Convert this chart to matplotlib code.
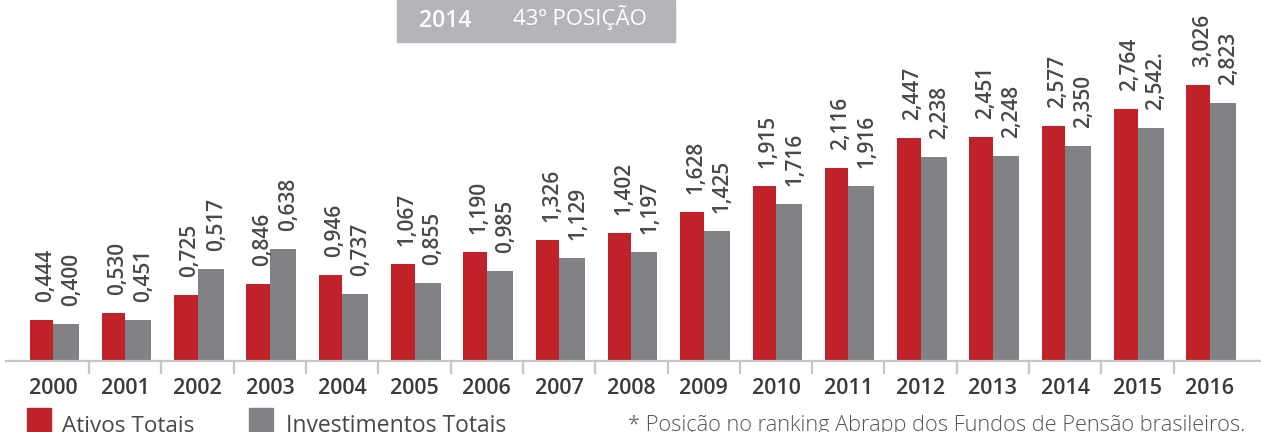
import matplotlib.pyplot as plt
from matplotlib.patches import Rectangle

plt.rcParams['font.family'] = ['Open Sans', 'DejaVu Sans']

# dados (R$ bilhões)
anos = ['2000', '2001', '2002', '2003', '2004', '2005', '2006', '2007', '2008',
        '2009', '2010', '2011', '2012', '2013', '2014', '2015', '2016']
ativos = [0.444, 0.530, 0.725, 0.846, 0.946, 1.067, 1.190, 1.326, 1.402,
          1.628, 1.915, 2.116, 2.447, 2.451, 2.577, 2.764, 3.026]
# alturas das barras como aparecem no grafico
investimentos = [0.400, 0.451, 1.010, 1.230, 0.737, 0.855, 0.985, 1.129, 1.197,
                 1.425, 1.716, 1.916, 2.238, 2.248, 2.350, 2.555, 2.823]
rotulos_ativos = ['0,444', '0,530', '0,725', '0,846', '0,946', '1,067', '1,190',
                  '1,326', '1,402', '1,628', '1,915', '2,116', '2,447', '2,451',
                  '2,577', '2,764', '3,026']
rotulos_invest = ['0,400', '0,451', '0,517', '0,638', '0,737', '0,855', '0,985',
                  '1,129', '1,197', '1,425', '1,716', '1,916', '2,238', '2,248',
                  '2,350', '2,542.', '2,823']

VERMELHO = '#c0222a'
CINZA = '#808285'
TEXTO = '#48484b'
EIXO = '#c6c6c8'

W, H = 1261, 432
fig = plt.figure(figsize=(W / 100, H / 100), dpi=100)
ax = fig.add_axes([6 / W, (H - 361) / H, (W - 6) / W, 361 / H])

x = list(range(len(anos)))
ax.bar(x, ativos, width=-0.325, align='edge', color=VERMELHO)
ax.bar(x, investimentos, width=0.36, align='edge', color=CINZA)

for i in x:
    ax.annotate(rotulos_ativos[i], (i - 0.1625, ativos[i]), xytext=(3, 13),
                textcoords='offset points', rotation=90, ha='center', va='bottom',
                fontsize=15, fontweight='semibold', color=TEXTO)
    ax.annotate(rotulos_invest[i], (i + 0.18, investimentos[i]), xytext=(4, 13),
                textcoords='offset points', rotation=90, ha='center', va='bottom',
                fontsize=15, fontweight='semibold', color=TEXTO)

ax.set_xlim((6 - 53) / 72.3, (1261 - 53) / 72.3)
ax.set_ylim(0, 361 / 91.3)

for s in ['top', 'right', 'left']:
    ax.spines[s].set_visible(False)
ax.spines['bottom'].set_color(EIXO)
ax.spines['bottom'].set_linewidth(1.6)
ax.set_yticks([])

ax.set_xticks([i + 0.5 for i in x[:-1]])
ax.set_xticklabels([])
ax.tick_params(axis='x', which='major', length=9, width=1.6, color=EIXO)
ax.set_xticks(x, anos, minor=True)
ax.tick_params(axis='x', which='minor', length=0, pad=12, labelsize=15.5,
               labelcolor='#3a3a3c')
for t in ax.get_xticklabels(minor=True):
    t.set_fontweight('semibold')


def px(xp, yp):
    return xp / W, 1 - yp / H


# caixa do topo
fig.patches.append(Rectangle(px(397, 42), (675 - 397) / W, 42 / H,
                             transform=fig.transFigure, color='#b4b5b8', zorder=0))
fig.text(*px(445, 21), '2014', color='white', fontsize=16.5, fontweight='semibold',
         ha='center', va='center')
fig.text(*px(580, 18), '43º POSIÇÃO', color='white', fontsize=16,
         ha='center', va='center')

# legenda
fig.patches.append(Rectangle(px(27, 433), 24 / W, 25 / H,
                             transform=fig.transFigure, color=VERMELHO))
fig.text(*px(62, 432), 'Ativos Totais', color=TEXTO, fontsize=16.2, ha='left',
         va='baseline')
fig.patches.append(Rectangle(px(249, 433), 24 / W, 25 / H,
                             transform=fig.transFigure, color=CINZA))
fig.text(*px(286, 432), 'Investimentos Totais', color=TEXTO, fontsize=16.5, ha='left',
         va='baseline')
fig.text(*px(1245, 431), '* Posição no ranking Abrapp dos Fundos de Pensão brasileiros.',
         color='#555557', fontsize=15.7, fontweight='light', ha='right', va='baseline')

fig.savefig('out.png', dpi=100)
